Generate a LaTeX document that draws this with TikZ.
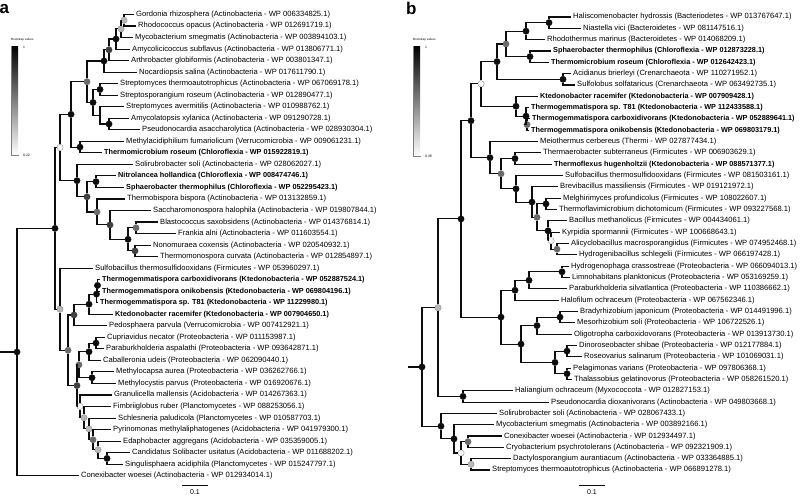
\documentclass[tikz,border=0pt]{standalone}
\usepackage{fontspec}
\setmainfont{Liberation Sans}
\definecolor{cA}{gray}{0.05}
\definecolor{cB}{gray}{0.25}
\definecolor{cC}{gray}{0.42}
\definecolor{cD}{gray}{0.72}
\definecolor{cE}{gray}{0.97}
\tikzset{blob/.style={
  shape=circle,
  draw=gray,
  line width=0.3pt,
  minimum size=6.4pt,
  inner sep=0pt,
  }
}
\tikzset{blobA/.style={blob, fill=cA, draw=cA}}
\tikzset{blobB/.style={blob, fill=cB, draw=cB}}
\tikzset{blobC/.style={blob, fill=cC, draw=cC}}
\tikzset{blobD/.style={blob, fill=cD}}
\tikzset{blobE/.style={blob, fill=cE}}
\tikzset{leaf/.style={
  anchor=west,
  inner sep=2pt,
  font=\fontsize{7.6}{9}\selectfont,
  }
}
\tikzset{leafb/.style={leaf, font=\fontsize{7.3}{9}\selectfont\bfseries}}
\tikzset{branch/.style={line width=1.1pt, cA}}
\tikzset{tiny/.style={inner sep=0pt, font=\fontsize{3}{3.5}\selectfont}}

\begin{document}
\begin{tikzpicture}[x=1pt, y=-1pt]
  \useasboundingbox (0,0) rectangle (800,496);

  % panel a
  \node[anchor=west, inner sep=0pt, font=\fontsize{17}{17}\selectfont\bfseries] (pa) at (-0.5,9) {a};
  \node[tiny, anchor=west] (lgA) at (11,39.5) {Bootstrap values};
  \shade[top color=black, bottom color=white] (11,46) rectangle (18,155);
  \draw[line width=0.3pt, gray] (11,46) -- (11,155) -- (19,155);
  \node[tiny, anchor=west, font=\fontsize{3.4}{4}\selectfont] (lgA1) at (23,47) {1};
  \node[tiny, anchor=west, font=\fontsize{3.4}{4}\selectfont] (lgA0) at (23,155.5) {0.22};

  \begin{scope}[y=-11.53pt, yshift=-2.97pt]
    \node[leaf] (a1) at (134,1) {Gordonia rhizosphera (Actinobacteria - WP 006334825.1)};
    \node[leaf] (a2) at (136,2) {Rhodococcus opacus (Actinobacteria - WP 012691719.1)};
    \node[leaf] (a3) at (133,3) {Mycobacterium smegmatis (Actinobacteria - WP 003894103.1)};
    \node[leaf] (a4) at (130,4) {Amycolicicoccus subflavus (Actinobacteria - WP 013806771.1)};
    \node[leaf] (a5) at (129,5) {Arthrobacter globiformis (Actinobacteria - WP 003801347.1)};
    \node[leaf] (a6) at (137,6) {Nocardiopsis salina (Actinobacteria - WP 017611790.1)};
    \node[leaf] (a7) at (118,7) {Streptomyces thermoautotrophicus (Actinobacteria - WP 067069178.1)};
    \node[leaf] (a8) at (118,8) {Streptosporangium roseum (Actinobacteria - WP 012890477.1)};
    \node[leaf] (a9) at (124,9) {Streptomyces avermitilis (Actinobacteria - WP 010988762.1)};
    \node[leaf] (a10) at (129,10) {Amycolatopsis xylanica (Actinobacteria - WP 091290728.1)};
    \node[leaf] (a11) at (140,11) {Pseudonocardia asaccharolytica (Actinobacteria - WP 028930304.1)};
    \node[leaf] (a12) at (124,12) {Methylacidiphilium fumariolicum (Verrucomicrobia - WP 009061231.1)};
    \node[leafb] (a13) at (102,13) {Thermomicrobium roseum (Chloroflexia - WP 015922819.1)};
    \node[leaf] (a14) at (133,14) {Solirubrobacter soli (Actinobacteria - WP 028062027.1)};
    \node[leafb] (a15) at (116,15) {Nitrolancea hollandica (Chloroflexia - WP 008474746.1)};
    \node[leafb] (a16) at (124,16) {Sphaerobacter thermophilus (Chloroflexia - WP 052295423.1)};
    \node[leaf] (a17) at (125,17) {Thermobispora bispora (Actinobacteria - WP 013132859.1)};
    \node[leaf] (a18) at (151,18) {Saccharomonospora halophila (Actinobacteria - WP 019807844.1)};
    \node[leaf] (a19) at (158,19) {Blastococcus saxobsidens (Actinobacteria - WP 014376814.1)};
    \node[leaf] (a20) at (176,20) {Frankia alni (Actinobacteria - WP 011603554.1)};
    \node[leaf] (a21) at (151,21) {Nonomuraea coxensis (Actinobacteria - WP 020540932.1)};
    \node[leaf] (a22) at (158,22) {Thermomonospora curvata (Actinobacteria - WP 012854897.1)};
    \node[leaf] (a23) at (93,23) {Sulfobacillus thermosulfidooxidans (Firmicutes - WP 053960297.1)};
    \node[leafb] (a24) at (100,24) {Thermogemmatispora carboxidivorans (Ktedonobacteria - WP 052887524.1)};
    \node[leafb] (a25) at (100,25) {Thermogemmatispora onikobensis (Ktedonobacteria - WP 069804196.1)};
    \node[leafb] (a26) at (98,26) {Thermogemmatispora sp. T81 (Ktedonobacteria - WP 11229980.1)};
    \node[leafb] (a27) at (113,27) {Ktedonobacter racemifer (Ktedonobacteria - WP 007904650.1)};
    \node[leaf] (a28) at (107,28) {Pedosphaera parvula (Verrucomicrobia - WP 007412921.1)};
    \node[leaf] (a29) at (105,29) {Cupriavidus necator (Proteobacteria - WP 011153987.1)};
    \node[leaf] (a30) at (104,30) {Paraburkholderia aspalathi (Proteobacteria - WP 093642871.1)};
    \node[leaf] (a31) at (101,31) {Caballeronia udeis (Proteobacteria - WP 062090440.1)};
    \node[leaf] (a32) at (114,32) {Methylocapsa aurea (Proteobacteria - WP 036262766.1)};
    \node[leaf] (a33) at (116,33) {Methylocystis parvus (Proteobacteria - WP 016920676.1)};
    \node[leaf] (a34) at (112,34) {Granulicella mallensis (Acidobacteria - WP 014267363.1)};
    \node[leaf] (a35) at (111,35) {Fimbriiglobus ruber (Planctomycetes - WP 088253056.1)};
    \node[leaf] (a36) at (116,36) {Schlesneria paludicola (Planctomycetes - WP 010587703.1)};
    \node[leaf] (a37) at (111,37) {Pyrinomonas methylaliphatogenes (Acidobacteria - WP 041979300.1)};
    \node[leaf] (a38) at (121,38) {Edaphobacter aggregans (Acidobacteria - WP 035359005.1)};
    \node[leaf] (a39) at (130,39) {Candidatus Solibacter usitatus (Acidobacteria - WP 011688202.1)};
    \node[leaf] (a40) at (123,40) {Singulisphaera acidiphila (Planctomycetes - WP 015247797.1)};
    \node[leaf] (a41) at (79,41) {Conexibacter woesei (Actinobacteria - WP 012934014.1)};

    % inner nodes, coloured by bootstrap
    \node[blobD] (aGR) at (124,1.5) {};
    \node[blobD] (aGM) at (121,2.25) {};
    \node[blobA] (aGA) at (116,3.125) {};
    \node[blobB] (aGAr) at (109,4.06) {};
    \node[blobA] (aGN) at (104,5.03) {};
    \node[blobA] (aSS) at (100,7.5) {};
    \node[blobA] (aAP) at (109,10.5) {};
    \coordinate (aSAP) at (100,9.75);
    \node[blobA] (aStr) at (93,8.63) {};
    \node[blobC] (aAct) at (87,6.83) {};
    \node[blobA] (aMT) at (80,12.5) {};
    \node[blobA] (aUp) at (71,9.66) {};
    \node[blobA] (aNS) at (96,15.5) {};
    \node[blobC] (aBF) at (136,19.5) {};
    \node[blobB] (aNT) at (135,21.5) {};
    \node[blobA] (aBN) at (128,20.5) {};
    \node[blobB] (aSa) at (110,19.25) {};
    \node[blobC] (aTb) at (97,18.13) {};
    \node[blobB] (aCh) at (87,16.81) {};
    \node[blobA] (aSo) at (77,15.41) {};
    \node[blobE] (aW) at (60,12.53) {};
    \node[blobA] (aT2) at (97.5,24.5) {};
    \node[blobA] (aT1) at (96.5,25.25) {};
    \node[blobA] (aK) at (89,26.13) {};
    \node[blobB] (aKP) at (74,27.06) {};
    \node[blobA] (aCP) at (96,29.5) {};
    \node[blobA] (aCa) at (89,30.25) {};
    \node[blobA] (aMe) at (92,32.5) {};
    \node[blobC] (aPr) at (79,31.38) {};
    \node[blobA] (aN7) at (107,39.5) {};
    \node[blobD] (aN6) at (98,38.75) {};
    \node[blobC] (aN5) at (93,37.88) {};
    \node[blobD] (aN4) at (89,36.94) {};
    \node[blobD] (aN3) at (84,35.97) {};
    \node[blobE] (aN2) at (80,34.98) {};
    \node[blobB] (aPA) at (77,33.18) {};
    \node[blobC] (aKo) at (68,30.12) {};
    \node[blobD] (aL) at (60,26.56) {};
    \node[blobA] (aB) at (55,19.55) {};
    \node[blobA] (aRt) at (17,30.27) {};
    \coordinate (a0) at (0,30.27);

    \draw[branch]
      (a0) -- (aRt)
      (aRt) |- (aB) (aRt) |- (a41)
      (aB) |- (aW) (aB) |- (aL)
      (aW) |- (aUp) (aW) |- (aSo)
      (aUp) |- (aAct) (aUp) |- (aMT)
      (aAct) |- (aGN) (aAct) |- (aStr)
      (aGN) |- (aGAr) (aGN) |- (a6)
      (aGAr) |- (aGA) (aGAr) |- (a5)
      (aGA) |- (aGM) (aGA) |- (a4)
      (aGM) |- (aGR) (aGM) |- (a3)
      (aGR) |- (a1) (aGR) |- (a2)
      (aStr) |- (aSS) (aStr) |- (aSAP)
      (aSS) |- (a7) (aSS) |- (a8)
      (aSAP) |- (a9) (aSAP) |- (aAP)
      (aAP) |- (a10) (aAP) |- (a11)
      (aMT) |- (a12) (aMT) |- (a13)
      (aSo) |- (a14) (aSo) |- (aCh)
      (aCh) |- (aNS) (aCh) |- (aTb)
      (aNS) |- (a15) (aNS) |- (a16)
      (aTb) |- (a17) (aTb) |- (aSa)
      (aSa) |- (a18) (aSa) |- (aBN)
      (aBN) |- (aBF) (aBN) |- (aNT)
      (aBF) |- (a19) (aBF) |- (a20)
      (aNT) |- (a21) (aNT) |- (a22)
      (aL) |- (a23) (aL) |- (aKo)
      (aKo) |- (aKP) (aKo) |- (aPA)
      (aKP) |- (aK) (aKP) |- (a28)
      (aK) |- (aT1) (aK) |- (a27)
      (aT1) |- (aT2) (aT1) |- (a26)
      (aT2) |- (a24) (aT2) |- (a25)
      (aPA) |- (aPr) (aPA) |- (aN2)
      (aPr) |- (aCa) (aPr) |- (aMe)
      (aCa) |- (aCP) (aCa) |- (a31)
      (aCP) |- (a29) (aCP) |- (a30)
      (aMe) |- (a32) (aMe) |- (a33)
      (aN2) |- (a34) (aN2) |- (aN3)
      (aN3) |- (a35) (aN3) |- (aN4)
      (aN4) |- (a36) (aN4) |- (aN5)
      (aN5) |- (a37) (aN5) |- (aN6)
      (aN6) |- (a38) (aN6) |- (aN7)
      (aN7) |- (a39) (aN7) |- (a40);
  \end{scope}

  \coordinate (sbA1) at (182,485.7);
  \coordinate (sbA2) at (208,485.7);
  \draw[branch] (sbA1) -- (sbA2);
  \node[font=\fontsize{7}{8}\selectfont, inner sep=0pt] (sbAt) at (195,492.5) {0.1};

  % panel b
  \node[anchor=west, inner sep=0pt, font=\fontsize{17}{17}\selectfont\bfseries] (pb) at (406,8.5) {b};
  \node[tiny, anchor=west] (lgB) at (413,39.5) {Bootstrap values};
  \shade[top color=black, bottom color=white] (413,46) rectangle (420,156);
  \draw[line width=0.3pt, gray] (413,46) -- (413,156) -- (421,156);
  \node[tiny, anchor=west, font=\fontsize{3.4}{4}\selectfont] (lgB1) at (425,47) {1};
  \node[tiny, anchor=west, font=\fontsize{3.4}{4}\selectfont] (lgB0) at (425,156.5) {0.38};

  \begin{scope}[y=-11.325pt, yshift=-5.675pt]
    \node[leaf] (b1) at (571,1) {Haliscomenobacter hydrossis (Bacteriodetes - WP 013767647.1)};
    \node[leaf] (b2) at (581,2) {Niastella vici (Bacteroidetes - WP 081147516.1)};
    \node[leaf] (b3) at (545,3) {Rhodothermus marinus (Bacteroidetes - WP 014068209.1)};
    \node[leafb] (b4) at (551,4) {Sphaerobacter thermophilus (Chloroflexia - WP 012873228.1)};
    \node[leafb] (b5) at (549,5) {Thermomicrobium roseum (Chloroflexia - WP 012642423.1)};
    \node[leaf] (b6) at (571,6) {Acidianus brierleyi (Crenarchaeota - WP 110271952.1)};
    \node[leaf] (b7) at (575,7) {Sulfolobus solfataricus (Crenarchaeota - WP 063492735.1)};
    \node[leafb] (b8) at (538,8) {Ktedonobacter racemifer (Ktedonobacteria - WP 007909428.1)};
    \node[leafb] (b9) at (529,9) {Thermogemmatispora sp. T81 (Ktedonobacteria - WP 112433588.1)};
    \node[leafb] (b10) at (530,10) {Thermogemmatispora carboxidivorans (Ktedonobacteria - WP 052889641.1)};
    \node[leafb] (b11) at (529,11) {Thermogemmatispora onikobensis (Ktedonobacteria - WP 069803179.1)};
    \node[leaf] (b12) at (538,12) {Meiothermus cerbereus (Thermi - WP 027877434.1)};
    \node[leaf] (b13) at (541,13) {Thermaerobacter subterraneus (Firmicutes - WP 006903629.1)};
    \node[leafb] (b14) at (552,14) {Thermoflexus hugenholtzii (Ktedonobacteria - WP 088571377.1)};
    \node[leaf] (b15) at (563,15) {Sulfobacillus thermosulfidooxidans (Firmicutes - WP 081503161.1)};
    \node[leaf] (b16) at (558,16) {Brevibacillus massiliensis (Firmicutes - WP 019121972.1)};
    \node[leaf] (b17) at (561,17) {Melghirimyces profundicolus (Firmicutes - WP 108022607.1)};
    \node[leaf] (b18) at (557,18) {Thermoflavimicrobium dichotomicum (Firmicutes - WP 093227568.1)};
    \node[leaf] (b19) at (567,19) {Bacillus methanolicus (Firmicutes - WP 004434061.1)};
    \node[leaf] (b20) at (560,20) {Kyrpidia spormannii (Firmicutes - WP 100668643.1)};
    \node[leaf] (b21) at (569,21) {Alicyclobacillus macrosporangiidus (Firmicutes - WP 074952468.1)};
    \node[leaf] (b22) at (577,22) {Hydrogenibacillus schlegelii (Firmicutes - WP 066197428.1)};
    \node[leaf] (b23) at (569,23) {Hydrogenophaga crassostreae (Proteobacteria - WP 066094013.1)};
    \node[leaf] (b24) at (570,24) {Limnohabitans planktonicus (Proteobacteria - WP 053169259.1)};
    \node[leaf] (b25) at (567,25) {Paraburkholderia silvatlantica (Proteobacteria - WP 110386662.1)};
    \node[leaf] (b26) at (559,26) {Halofilum ochraceum (Proteobacteria - WP 067562346.1)};
    \node[leaf] (b27) at (578,27) {Bradyrhizobium japonicum (Proteobacteria - WP 014491996.1)};
    \node[leaf] (b28) at (575,28) {Mesorhizobium soli (Proteobacteria - WP 106722526.1)};
    \node[leaf] (b29) at (572,29) {Oligotropha carboxidovorans (Proteobacteria - WP 013913730.1)};
    \node[leaf] (b30) at (577,30) {Dinoroseobacter shibae (Proteobacteria - WP 012177884.1)};
    \node[leaf] (b31) at (582,31) {Roseovarius salinarum (Proteobacteria - WP 101069031.1)};
    \node[leaf] (b32) at (571,32) {Pelagimonas varians (Proteobacteria - WP 097806368.1)};
    \node[leaf] (b33) at (572,33) {Thalassobius gelatinovorus (Proteobacteria - WP 058261520.1)};
    \node[leaf] (b34) at (513,34) {Haliangium ochraceum (Myxococcota - WP 012827153.1)};
    \node[leaf] (b35) at (549,35) {Pseudonocardia dioxanivorans (Actinobacteria - WP 049803668.1)};
    \node[leaf] (b36) at (497,36) {Solirubrobacter soli (Actinobacteria - WP 028067433.1)};
    \node[leaf] (b37) at (494,37) {Mycobacterium smegmatis (Actinobacteria - WP 003892166.1)};
    \node[leaf] (b38) at (502,38) {Conexibacter woesei (Actinobacteria - WP 012934497.1)};
    \node[leaf] (b39) at (504,39) {Cryobacterium psychrotolerans (Actinobacteria - WP 092321909.1)};
    \node[leaf] (b40) at (511,40) {Dactylosporangium aurantiacum (Actinobacteria - WP 033364885.1)};
    \node[leaf] (b41) at (490,41) {Streptomyces thermoautotrophicus (Actinobacteria - WP 066891278.1)};

    % inner nodes, coloured by bootstrap
    \node[blobA] (bHN) at (549,1.5) {};
    \node[blobA] (bHR) at (526,2.25) {};
    \node[blobA] (bST) at (530,4.5) {};
    \node[blobC] (bBC) at (506,3.38) {};
    \node[blobA] (bAS) at (563,6.5) {};
    \node[blobA] (bUp) at (497,4.94) {};
    \node[blobC] (bT3) at (527,10.5) {};
    \node[blobA] (bT2) at (526,9.75) {};
    \node[blobA] (bKt) at (516,8.88) {};
    \node[blobE] (bW) at (481,6.9) {};
    \node[blobA] (bTT) at (515,13.5) {};
    \node[blobA] (bMT) at (546,17.5) {};
    \node[blobC] (bAH) at (557,21.5) {};
    \node[blobE] (bKy) at (551,20.75) {};
    \node[blobA] (bBa) at (548,19.88) {};
    \node[blobC] (bMB) at (537,18.69) {};
    \node[blobA] (bBr) at (532,17.34) {};
    \node[blobA] (bSu) at (516,16.17) {};
    \node[blobC] (bFi) at (501,14.84) {};
    \node[blobA] (bMe) at (490,13.42) {};
    \node[blobA] (bMid) at (471,10.16) {};
    \node[blobA] (bHL) at (562,23.5) {};
    \node[blobA] (bHP) at (529,24.25) {};
    \node[blobA] (bHa) at (515,25.13) {};
    \node[blobA] (bBM) at (560,27.5) {};
    \node[blobA] (bBO) at (537,28.25) {};
    \node[blobA] (bDR) at (567,30.5) {};
    \node[blobA] (bPT) at (567,32.5) {};
    \node[blobA] (bRo) at (555,31.5) {};
    \node[blobA] (bAl) at (521,29.88) {};
    \node[blobA] (bPro) at (501,27.5) {};
    \node[blobA] (bBig) at (461,18.83) {};
    \node[blobA] (bHP2) at (463,34.5) {};
    \node[blobD] (bL) at (438,26.67) {};
    \node[blobC] (bCC) at (468,38.5) {};
    \node[blobD] (bDS) at (471,40.5) {};
    \node[blobE] (bWh) at (461,39.5) {};
    \node[blobA] (bMy) at (454,38.25) {};
    \node[blobA] (bSo) at (441,37.13) {};
    \node[blobA] (bRt) at (422,31.9) {};
    \coordinate (b0) at (408,31.9);

    \draw[branch]
      (b0) -- (bRt)
      (bRt) |- (bL) (bRt) |- (bSo)
      (bL) |- (bBig) (bL) |- (bHP2)
      (bHP2) |- (b34) (bHP2) |- (b35)
      (bBig) |- (bMid) (bBig) |- (bPro)
      (bMid) |- (bW) (bMid) |- (bMe)
      (bW) |- (bUp) (bW) |- (bKt)
      (bUp) |- (bBC) (bUp) |- (bAS)
      (bBC) |- (bHR) (bBC) |- (bST)
      (bHR) |- (bHN) (bHR) |- (b3)
      (bHN) |- (b1) (bHN) |- (b2)
      (bST) |- (b4) (bST) |- (b5)
      (bAS) |- (b6) (bAS) |- (b7)
      (bKt) |- (b8) (bKt) |- (bT2)
      (bT2) |- (b9) (bT2) |- (bT3)
      (bT3) |- (b10) (bT3) |- (b11)
      (bMe) |- (b12) (bMe) |- (bFi)
      (bFi) |- (bTT) (bFi) |- (bSu)
      (bTT) |- (b13) (bTT) |- (b14)
      (bSu) |- (b15) (bSu) |- (bBr)
      (bBr) |- (b16) (bBr) |- (bMB)
      (bMB) |- (bMT) (bMB) |- (bBa)
      (bMT) |- (b17) (bMT) |- (b18)
      (bBa) |- (b19) (bBa) |- (bKy)
      (bKy) |- (b20) (bKy) |- (bAH)
      (bAH) |- (b21) (bAH) |- (b22)
      (bPro) |- (bHa) (bPro) |- (bAl)
      (bHa) |- (bHP) (bHa) |- (b26)
      (bHP) |- (bHL) (bHP) |- (b25)
      (bHL) |- (b23) (bHL) |- (b24)
      (bAl) |- (bBO) (bAl) |- (bRo)
      (bBO) |- (bBM) (bBO) |- (b29)
      (bBM) |- (b27) (bBM) |- (b28)
      (bRo) |- (bDR) (bRo) |- (bPT)
      (bDR) |- (b30) (bDR) |- (b31)
      (bPT) |- (b32) (bPT) |- (b33)
      (bSo) |- (b36) (bSo) |- (bMy)
      (bMy) |- (b37) (bMy) |- (bWh)
      (bWh) |- (bCC) (bWh) |- (bDS)
      (bCC) |- (b38) (bCC) |- (b39)
      (bDS) |- (b40) (bDS) |- (b41);
  \end{scope}

  \coordinate (sbB1) at (579,485.7);
  \coordinate (sbB2) at (605,485.7);
  \draw[branch] (sbB1) -- (sbB2);
  \node[font=\fontsize{7}{8}\selectfont, inner sep=0pt] (sbBt) at (592,492.5) {0.1};
\end{tikzpicture}
\end{document}
